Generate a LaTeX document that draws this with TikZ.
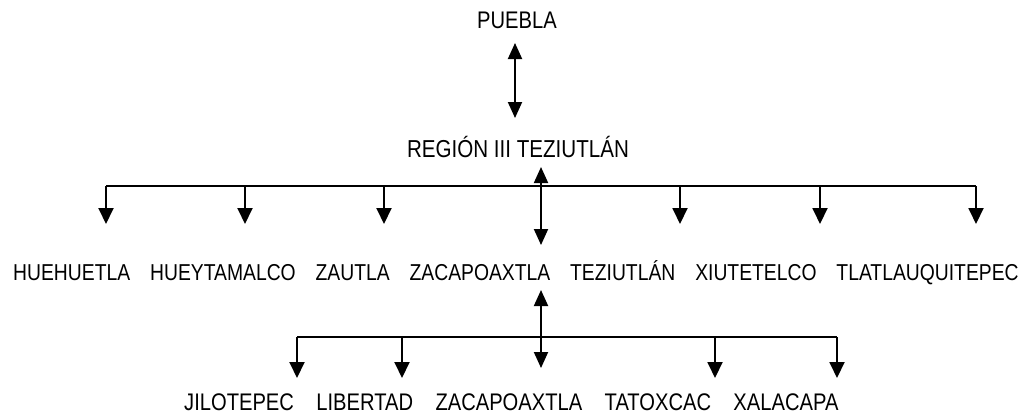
\documentclass[tikz,border=0pt]{standalone}
\usepackage{fontspec}
\setmainfont{Liberation Sans}[FakeStretch=0.84]
\usetikzlibrary{arrows.meta}
\begin{document}
\begin{tikzpicture}[x=1pt,y=-1pt,
  lbl/.style={font=\fontsize{23}{23}\selectfont, inner sep=0pt, anchor=base},
  lblb/.style={font=\fontsize{24}{24}\selectfont, inner sep=0pt, anchor=base west},
  conn/.style={line width=1.9pt},
  tipd/.style={-{Triangle[length=16pt,width=15pt]}},
  both/.style={{Triangle[length=16pt,width=14pt]}-{Triangle[length=16pt,width=14pt]}}]
\useasboundingbox (0,0) rectangle (1032,413);
% texts
\node[lbl,font=\fontsize{24}{24}\selectfont] (puebla) at (517,28) {PUEBLA};
\node[lbl,font=\fontsize{24.5}{24.5}\selectfont] (region) at (518,157) {REGIÓN III TEZIUTLÁN};
% row 2
\node[lbl,anchor=base west] (huehuetla) at (13,280) {HUEHUETLA};
\node[lbl,anchor=base west] (hueytamalco) at ([xshift=19.5pt]huehuetla.base east) {HUEYTAMALCO};
\node[lbl,anchor=base west] (zautla) at ([xshift=19.5pt]hueytamalco.base east) {ZAUTLA};
\node[lbl,anchor=base west] (zacapoaxtla) at ([xshift=19.5pt]zautla.base east) {ZACAPOAXTLA};
\node[lbl,anchor=base west] (teziutlan) at ([xshift=19.5pt]zacapoaxtla.base east) {TEZIUTLÁN};
\node[lbl,anchor=base west] (xiutetelco) at ([xshift=19.5pt]teziutlan.base east) {XIUTETELCO};
\node[lbl,anchor=base west] (tlatla) at ([xshift=19.5pt]xiutetelco.base east) {TLATLAUQUITEPEC};
% bottom row
\node[lblb] (jilotepec) at (184,410) {JILOTEPEC};
\node[lblb] (libertad) at ([xshift=22pt]jilotepec.base east) {LIBERTAD};
\node[lblb] (zacapo2) at ([xshift=22pt]libertad.base east) {ZACAPOAXTLA};
\node[lblb] (tatoxcac) at ([xshift=22pt]zacapo2.base east) {TATOXCAC};
\node[lblb] (xalacapa) at ([xshift=22pt]tatoxcac.base east) {XALACAPA};
% top double arrow
\coordinate (p1) at (515,43);
\coordinate (p2) at (515,118);
\draw[conn,both] (p1) -- (p2);
% first bar
\coordinate (bL) at (106,186);
\coordinate (bR) at (976,186);
\draw[conn] (bL) -- (bR);
\foreach \i/\x in {1/106,2/245,3/384,5/680,6/820,7/976}{
  \coordinate (s\i) at (\x,186);
  \coordinate (e\i) at (\x,224);
  \draw[conn,tipd] (s\i) -- (e\i);
}
\coordinate (c1) at (541,167);
\coordinate (c2) at (541,245);
\draw[conn,both] (c1) -- (c2);
% lower double arrow
\coordinate (d1) at (541,290);
\coordinate (d2) at (541,368);
\draw[conn,both] (d1) -- (d2);
% second bar
\coordinate (gL) at (297,337);
\coordinate (gR) at (837,337);
\draw[conn] (gL) -- (gR);
\foreach \i/\x in {1/297,2/402,4/715,5/837}{
  \coordinate (u\i) at (\x,337);
  \coordinate (v\i) at (\x,378);
  \draw[conn,tipd] (u\i) -- (v\i);
}
\end{tikzpicture}
\end{document}
